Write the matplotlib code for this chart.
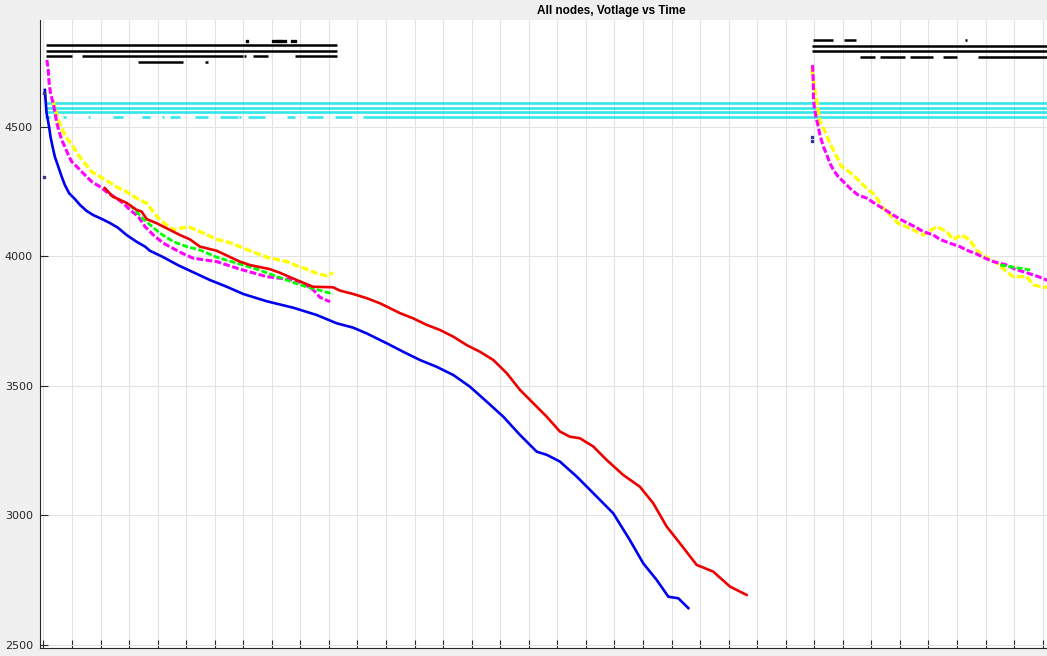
import matplotlib.pyplot as plt

# time axis: one tick every 100 units, voltage in mV
blue_t = [5, 11, 20, 25, 32, 40, 52, 64, 75, 90, 110, 128, 151, 174, 204, 233, 261, 291, 326, 356,
          373, 420, 472, 513, 583, 642, 700, 782, 875, 957, 1027, 1085, 1132, 1202, 1260, 1319, 1377,
          1436, 1494, 1553, 1611, 1669, 1728, 1763, 1809, 1868, 1926, 1996, 2054, 2101, 2148, 2189,
          2224, 2259]
blue_v = [4643, 4554, 4500, 4461, 4424, 4385, 4347, 4308, 4276, 4244, 4222, 4199, 4176, 4160, 4145,
          4129, 4111, 4083, 4057, 4038, 4022, 3997, 3966, 3945, 3909, 3883, 3855, 3827, 3802, 3774,
          3742, 3725, 3703, 3665, 3632, 3600, 3574, 3542, 3497, 3439, 3381, 3311, 3246, 3234, 3208,
          3150, 3086, 3008, 2905, 2815, 2751, 2686, 2680, 2642]

red_t = [215, 243, 291, 326, 344, 362, 397, 478, 513, 548, 607, 630, 688, 723, 793, 828, 887, 944,
         1014, 1039, 1085, 1132, 1179, 1214, 1249, 1295, 1342, 1389, 1436, 1482, 1529, 1576, 1623,
         1669, 1716, 1763, 1809, 1844, 1879, 1926, 1973, 2031, 2089, 2136, 2183, 2229, 2288, 2346,
         2405, 2463]
red_v = [4264, 4231, 4207, 4180, 4173, 4144, 4128, 4083, 4066, 4038, 4022, 4010, 3980, 3967, 3951,
         3937, 3909, 3883, 3881, 3868, 3855, 3839, 3819, 3800, 3781, 3761, 3736, 3716, 3690, 3658,
         3632, 3600, 3549, 3485, 3433, 3381, 3324, 3304, 3298, 3266, 3214, 3156, 3111, 3047, 2957,
         2893, 2809, 2783, 2725, 2693]

magenta_t = [12, 17, 20, 25, 34, 40, 46, 55, 64, 75, 87, 99, 122, 145, 169, 198, 227, 256, 280, 303,
             332, 356, 385, 420, 490, 525, 607, 688, 782, 875, 910, 945, 969, 1004]
magenta_v = [4759, 4720, 4669, 4630, 4592, 4559, 4520, 4482, 4450, 4424, 4392, 4366, 4341, 4315, 4289,
             4269, 4244, 4225, 4205, 4180, 4154, 4115, 4083, 4051, 4010, 3993, 3980, 3951, 3922, 3909,
             3897, 3871, 3842, 3825]

green_t = [303, 350, 408, 455, 502, 548, 607, 747, 899, 1014]
green_v = [4199, 4144, 4090, 4057, 4038, 4025, 3997, 3951, 3890, 3855]

yellow_t = [33, 52, 64, 75, 87, 104, 122, 145, 169, 198, 227, 256, 291, 326, 362, 408, 455, 507, 548,
            607, 653, 688, 723, 782, 852, 887, 922, 957, 992, 1015]
yellow_v = [4604, 4527, 4495, 4469, 4450, 4424, 4392, 4360, 4327, 4308, 4289, 4269, 4250, 4225, 4205,
            4141, 4102, 4115, 4096, 4066, 4053, 4038, 4022, 3997, 3980, 3964, 3951, 3935, 3925, 3937]

# second cycle (right side)
magenta2_t = [2694, 2697, 2697, 2700, 2706, 2714, 2720, 2732, 2744, 2755, 2767, 2784, 2802, 2831,
              2854, 2884, 2907, 2954, 2977, 3000, 3052, 3082, 3117, 3140, 3175, 3210, 3239, 3268,
              3297, 3327, 3374, 3403, 3444, 3485, 3514, 3561]
magenta2_v = [4739, 4669, 4617, 4578, 4540, 4501, 4469, 4424, 4392, 4360, 4334, 4308, 4289, 4257,
              4237, 4225, 4208, 4176, 4160, 4144, 4115, 4096, 4083, 4066, 4051, 4038, 4022, 4010,
              3994, 3980, 3967, 3951, 3937, 3922, 3909, 3894]

yellow2_t = [2691, 2697, 2720, 2738, 2755, 2773, 2796, 2826, 2854, 2884, 2913, 2937, 2966, 2994,
             3035, 3082, 3129, 3164, 3187, 3216, 3245, 3268, 3297, 3338, 3374, 3397, 3444, 3468,
             3503, 3561]
yellow2_v = [4727, 4681, 4520, 4482, 4437, 4398, 4347, 4324, 4295, 4263, 4237, 4192, 4160, 4128,
             4109, 4083, 4115, 4096, 4066, 4083, 4064, 4025, 4000, 3976, 3941, 3922, 3922, 3890,
             3881, 3882]

green2_t = [3351, 3456]
green2_v = [3967, 3948]

# cyan levels (full lines) and the broken lowest one
cyan_levels = [4591, 4574, 4556]
cyan_low = 4537
cyan_low_start = [5, 68, 156, 243, 345, 415, 443, 531, 618, 686, 717, 853, 923, 1021, 1119]
cyan_low_end = [23, 79, 163, 278, 373, 423, 478, 576, 681, 692, 776, 881, 979, 1081, 3990]

# black status lines at the top: (level, start, end)
black_level = [4815, 4793, 4774, 4774, 4774, 4774, 4774, 4751, 4751,
               4814, 4793, 4771, 4771, 4771, 4771, 4771, 4836, 4836, 4836]
black_start = [9, 9, 9, 134, 704, 734, 881, 332, 566,
               2691, 2691, 2860, 2930, 3035, 3151, 3274, 2697, 2804, 3228]
black_end = [1028, 1028, 99, 700, 708, 786, 1028, 490, 576,
             3990, 3990, 2913, 3018, 3116, 3200, 3990, 2766, 2846, 3234]
black_dots_t = [713, 804, 814, 822, 830, 836, 846, 871, 881]
black_dots_v = [4833] * 9

stray_t = [2, 2, 2693, 2693]
stray_v = [4630, 4308, 4463, 4446]

fig = plt.figure(figsize=(10.47, 6.56), dpi=100, facecolor='#f0f0f0')
ax = fig.add_axes([0.0382, 0.0122, 1.0907, 0.9573])
ax.set_facecolor('white')

for lv in cyan_levels:
    ax.hlines(lv, 5, 3990, color='#00e0e8', linewidth=1.9, alpha=0.8)
ax.hlines([cyan_low] * len(cyan_low_start), cyan_low_start, cyan_low_end,
          color='#00e0e8', linewidth=1.9, alpha=0.8)

ax.hlines(black_level, black_start, black_end, color='black', linewidth=1.8)
ax.plot(black_dots_t, black_dots_v, 's', color='black', markersize=1.6)

dash = (0, (2.2, 0.8))
ax.plot(yellow_t, yellow_v, color='#ffff00', linewidth=2.4, linestyle=dash)
ax.plot(yellow2_t, yellow2_v, color='#ffff00', linewidth=2.4, linestyle=dash)
ax.plot(magenta_t, magenta_v, color='#ff00ff', linewidth=2.2, linestyle=dash)
ax.plot(magenta2_t, magenta2_v, color='#ff00ff', linewidth=2.2, linestyle=dash)
ax.plot(green_t, green_v, color='#00ff00', linewidth=2.0, linestyle=dash)
ax.plot(green2_t, green2_v, color='#00ff00', linewidth=2.0, linestyle=dash)
ax.plot(red_t, red_v, color='#ee0000', linewidth=1.9)
ax.plot(blue_t, blue_v, color='#0000ee', linewidth=1.9)
ax.plot(stray_t, stray_v, 's', color='#333399', markersize=1.5)

ax.set_xlim(-12, 3988)
ax.set_ylim(2488, 4913)
ax.set_xticks(range(0, 4000, 100))
ax.set_xticklabels([])
ax.set_yticks([2500, 3000, 3500, 4000, 4500])
ax.tick_params(direction='in', length=6, width=0.8, color='#262626',
               labelsize=8, labelcolor='#262626', pad=5)
ax.grid(True, color='#e3e3e3', linewidth=0.8)
ax.set_axisbelow(True)

for s in ['top', 'right']:
    ax.spines[s].set_visible(False)
for s in ['left', 'bottom']:
    ax.spines[s].set_color('#262626')
    ax.spines[s].set_linewidth(0.8)

ax.set_title('All nodes, Votlage vs Time', fontsize=8.5, fontweight='bold',
             family='Liberation Sans', pad=4)

fig.savefig('out.png', dpi=100, facecolor=fig.get_facecolor())
